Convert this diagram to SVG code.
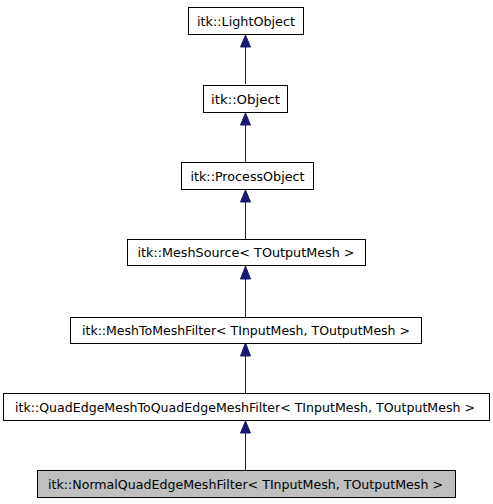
<svg xmlns="http://www.w3.org/2000/svg" width="493" height="504" viewBox="0 0 493 504">
<style>
.n rect{fill:#fff;stroke:#000;stroke-width:1}
.n.cur rect{fill:#bfbfbf}
.n text{font-family:"DejaVu Sans",sans-serif;font-size:12.6px;text-anchor:middle;fill:#000}
.e line{stroke:#191970;stroke-width:1}
.e path{fill:#191970;stroke:#191970}
</style>
<rect width="493" height="504" fill="#fff"/>
<g id="connectors" class="e">
<line x1="245.5" y1="84" x2="245.5" y2="46"/><path d="M240.5,47 L245.5,35 L250.5,47 Z"/>
<line x1="245.5" y1="162" x2="245.5" y2="124"/><path d="M240.5,125 L245.5,113 L250.5,125 Z"/>
<line x1="245.5" y1="239" x2="245.5" y2="201"/><path d="M240.5,202 L245.5,190 L250.5,202 Z"/>
<line x1="245.5" y1="317" x2="245.5" y2="278"/><path d="M240.5,279 L245.5,266 L250.5,279 Z"/>
<line x1="245.5" y1="393" x2="245.5" y2="355"/><path d="M240.5,356 L245.5,343 L250.5,356 Z"/>
<line x1="245.5" y1="470" x2="245.5" y2="432"/><path d="M240.5,433 L245.5,421 L250.5,433 Z"/>
</g>
<g id="LightObject" class="n"><rect x="188.5" y="7.5" width="115" height="27"/><text x="246" y="25.5" textLength="98" lengthAdjust="spacingAndGlyphs">itk::LightObject</text></g>
<g id="Object" class="n"><rect x="203.5" y="85.5" width="84" height="27"/><text x="245.5" y="103.5" textLength="69" lengthAdjust="spacingAndGlyphs">itk::Object</text></g>
<g id="ProcessObject" class="n"><rect x="181.5" y="162.5" width="132" height="27"/><text x="247.5" y="180.5" textLength="114" lengthAdjust="spacingAndGlyphs">itk::ProcessObject</text></g>
<g id="MeshSource" class="n"><rect x="127.5" y="239.5" width="238" height="26"/><text x="246" y="257" textLength="217" lengthAdjust="spacingAndGlyphs">itk::MeshSource&lt; TOutputMesh &gt;</text></g>
<g id="MeshToMeshFilter" class="n"><rect x="70.5" y="317.5" width="351" height="26"/><text x="246" y="335" textLength="328" lengthAdjust="spacingAndGlyphs">itk::MeshToMeshFilter&lt; TInputMesh, TOutputMesh &gt;</text></g>
<g id="QuadEdgeMeshToQuadEdgeMeshFilter" class="n"><rect x="3.5" y="393.5" width="486" height="27"/><text x="245" y="411.5" textLength="460" lengthAdjust="spacingAndGlyphs">itk::QuadEdgeMeshToQuadEdgeMeshFilter&lt; TInputMesh, TOutputMesh &gt;</text></g>
<g id="NormalQuadEdgeMeshFilter" class="n cur"><rect x="37.5" y="470.5" width="418" height="27"/><text x="245.5" y="488.5" textLength="395" lengthAdjust="spacingAndGlyphs">itk::NormalQuadEdgeMeshFilter&lt; TInputMesh, TOutputMesh &gt;</text></g>
</svg>
